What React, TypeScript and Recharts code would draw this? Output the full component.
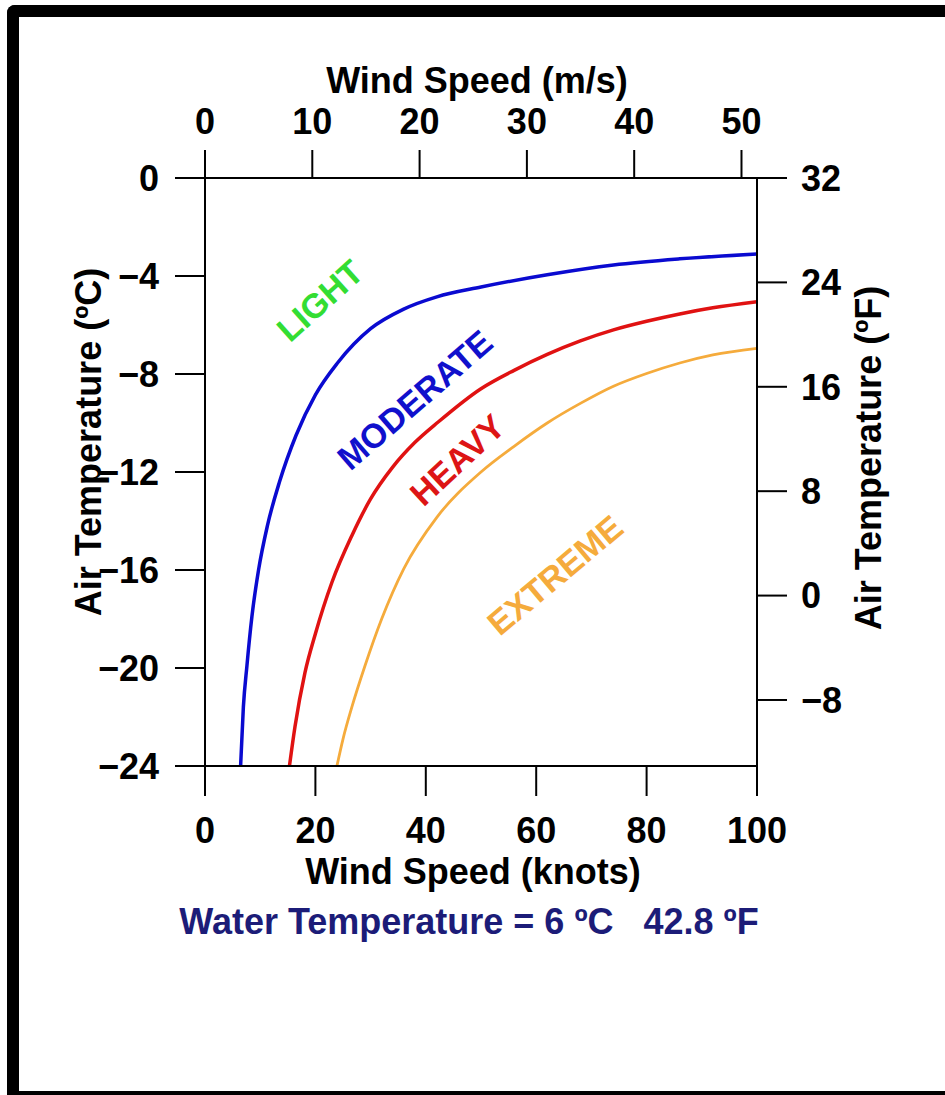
import React from "react";
import { Label, Line, LineChart, ReferenceDot, XAxis, YAxis } from "recharts";

// curves: wind speed (knots) vs air temperature (°C)
const blueKnots = [6.45, 6.95, 7.6, 8.5, 9.7, 11.3, 13.5, 16.5, 20, 24, 30, 36, 42, 50, 62, 74, 86, 100];
const blueTempC = [-24, -21.6, -19.9, -17.9, -16.0, -14.2, -12.4, -10.5, -8.85, -7.55, -6.15, -5.35, -4.85, -4.45, -3.95, -3.55, -3.3, -3.1];

const redKnots = [15.3, 16.3, 18.1, 20, 23, 26.6, 30, 34, 38, 42.3, 50, 56, 62, 68, 74, 80, 86, 92, 100];
const redTempC = [-24, -22.4, -20.2, -18.6, -16.5, -14.6, -13.1, -11.8, -10.8, -9.95, -8.6, -7.85, -7.2, -6.65, -6.2, -5.85, -5.55, -5.3, -5.05];

const orangeKnots = [23.9, 25, 26.6, 29, 32, 36, 42, 50, 56, 62, 68, 74, 80, 86, 92, 100];
const orangeTempC = [-24, -22.9, -21.6, -19.9, -18.0, -15.95, -13.85, -12.0, -10.95, -10.0, -9.2, -8.5, -7.98, -7.55, -7.22, -6.95];

const knotTicks = [0, 20, 40, 60, 80, 100];
const msTicks = [0, 10, 20, 30, 40, 50];
const tempCTicks = [0, -4, -8, -12, -16, -20, -24];
const tempFTicks = [32, 24, 16, 8, 0, -8];

// zone names and where they sit (knots, °C)
const zoneNames = ["LIGHT", "MODERATE", "HEAVY", "EXTREME"];
const zoneKnots = [20.8, 38.0, 45.7, 63.4];
const zoneTempC = [-5.0, -9.05, -11.5, -16.2];

const zoneStyle = [
  { color: "#33dd33", angle: -42 },
  { color: "#1010cc", angle: -41 },
  { color: "#dd1515", angle: -43 },
  { color: "#f5ab3c", angle: -40 },
];

const KNOTS_PER_MS = 1.9438;

const toPoints = (k: number[], t: number[]) => k.map((x, i) => ({ knots: x, tempC: t[i] }));

const bluePoints = toPoints(blueKnots, blueTempC);
const redPoints = toPoints(redKnots, redTempC);
const orangePoints = toPoints(orangeKnots, orangeTempC);

const fmt = (v: number) => (v < 0 ? `\u2212${-v}` : `${v}`);

const FONT = "'Liberation Sans', Arial, sans-serif";
const axisLine = { stroke: "#000", strokeWidth: 2 };
const tickStyle = { fill: "#000", fontSize: 36, fontWeight: 700, fontFamily: FONT };
const titleStyle = { fill: "#000", fontSize: 36, fontWeight: 700, fontFamily: FONT };

export default function App() {
  return (
    <div style={{ position: "relative", width: 945, height: 1095, background: "#fff", fontFamily: FONT, overflow: "hidden" }}>
      <style>{"body{margin:0;overflow:hidden}"}</style>
      <div
        style={{
          position: "absolute",
          left: 7,
          top: 5,
          width: 945,
          height: 1098,
          boxSizing: "border-box",
          border: "12px solid #000",
          borderRight: "none",
          borderTopLeftRadius: 8,
        }}
      />
      <div style={{ position: "absolute", left: 0, top: 0 }}>
        <LineChart
          width={945}
          height={1095}
          data={bluePoints}
          margin={{ top: 118, right: 68, bottom: 269, left: 85 }}
        >
          <XAxis
            xAxisId="kt"
            dataKey="knots"
            type="number"
            domain={[0, 100]}
            ticks={knotTicks}
            allowDataOverflow
            height={60}
            tickSize={30}
            tickMargin={21}
            axisLine={axisLine}
            tickLine={axisLine}
            tick={tickStyle}
            label={{ value: "Wind Speed (knots)", position: "center", dx: -8, dy: 75, ...titleStyle }}
          >
            <Label
              value={"Water Temperature = 6 \u00baC\u00a0\u00a0\u00a042.8 \u00baF"}
              position="center"
              dx={-12}
              dy={125}
              fill="#1c1c78"
              fontSize={36}
              fontWeight={700}
              fontFamily={FONT}
            />
          </XAxis>
          <XAxis
            xAxisId="ms"
            orientation="top"
            dataKey={(d: { knots: number }) => d.knots / KNOTS_PER_MS}
            type="number"
            domain={[0, 100 / KNOTS_PER_MS]}
            ticks={msTicks}
            allowDataOverflow
            height={60}
            tickSize={28}
            tickMargin={16}
            axisLine={axisLine}
            tickLine={axisLine}
            tick={tickStyle}
            label={{ value: "Wind Speed (m/s)", position: "center", dx: -4, dy: -68, ...titleStyle }}
          />
          <YAxis
            yAxisId="c"
            type="number"
            domain={[-24, 0]}
            ticks={tempCTicks}
            allowDataOverflow
            width={120}
            tickSize={30}
            tickMargin={16}
            tickFormatter={fmt}
            axisLine={axisLine}
            tickLine={axisLine}
            tick={tickStyle}
            label={{ value: "Air Temperature (\u00baC)", angle: -90, position: "center", dx: -57, dy: -30, ...titleStyle }}
          />
          <YAxis
            yAxisId="f"
            orientation="right"
            type="number"
            domain={[-13.06, 32]}
            ticks={tempFTicks}
            allowDataOverflow
            width={120}
            tickSize={30}
            tickMargin={14}
            tickFormatter={fmt}
            axisLine={axisLine}
            tickLine={axisLine}
            tick={tickStyle}
            label={{ value: "Air Temperature (\u00baF)", angle: -90, position: "center", dx: 51, dy: -14, ...titleStyle }}
          />
          <Line
            xAxisId="kt"
            yAxisId="c"
            dataKey="tempC"
            type="monotone"
            stroke="#0a0ad0"
            strokeWidth={3.5}
            dot={false}
            isAnimationActive={false}
          />
          <Line
            data={redPoints}
            xAxisId="kt"
            yAxisId="c"
            dataKey="tempC"
            type="monotone"
            stroke="#e01212"
            strokeWidth={3.5}
            dot={false}
            isAnimationActive={false}
          />
          <Line
            data={orangePoints}
            xAxisId="kt"
            yAxisId="c"
            dataKey="tempC"
            type="monotone"
            stroke="#f5ab3c"
            strokeWidth={2.8}
            dot={false}
            isAnimationActive={false}
          />
          {zoneNames.map((name, i) => (
            <ReferenceDot
              key={name}
              xAxisId="kt"
              yAxisId="c"
              x={zoneKnots[i]}
              y={zoneTempC[i]}
              r={0}
              fill="none"
              stroke="none"
              label={{
                value: name,
                position: "center",
                angle: zoneStyle[i].angle,
                fill: zoneStyle[i].color,
                fontSize: 34,
                fontWeight: 700,
                fontFamily: FONT,
              }}
            />
          ))}
        </LineChart>
      </div>
    </div>
  );
}
